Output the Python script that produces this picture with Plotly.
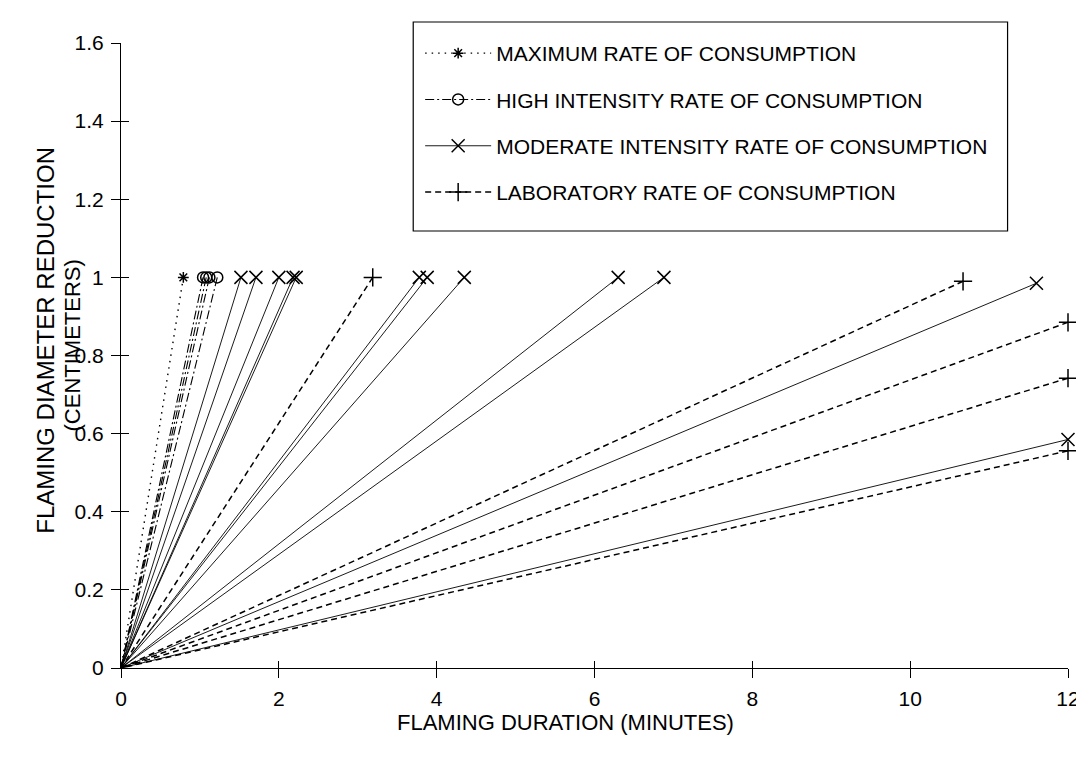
import plotly.graph_objects as go

# Endpoints (minutes, cm) of each burn line; every line starts at the origin
max_x = [0.79]
max_y = [1.0]
high_x = [1.04, 1.08, 1.12, 1.22]
high_y = [1.0, 1.0, 1.0, 1.0]
mod_x = [1.52, 1.71, 2.0, 2.18, 2.22, 3.78, 3.88, 4.35, 6.3, 6.88, 11.6, 12.0]
mod_y = [1.0, 1.0, 1.0, 1.0, 1.0, 1.0, 1.0, 1.0, 1.0, 1.0, 0.985, 0.585]
lab_x = [3.19, 10.67, 12.0, 12.0, 12.0]
lab_y = [1.0, 0.99, 0.885, 0.742, 0.556]

names = ["MAXIMUM RATE OF CONSUMPTION",
         "HIGH INTENSITY RATE OF CONSUMPTION",
         "MODERATE INTENSITY RATE OF CONSUMPTION",
         "LABORATORY RATE OF CONSUMPTION"]

x_ticks = [0, 2, 4, 6, 8, 10, 12]
y_ticks = [0, 0.2, 0.4, 0.6, 0.8, 1.0, 1.2, 1.4, 1.6]
y_ticktext = ["0", "0.2", "0.4", "0.6", "0.8", "1", "1.2", "1.4", "1.6"]

x_title = "FLAMING DURATION (MINUTES)"
y_title_1 = "FLAMING DIAMETER REDUCTION"
y_title_2 = "(CENTIMETERS)"

FONT = "Liberation Sans, Arial, sans-serif"
FS = 21

series = [
    (max_x, max_y, names[0], "asterisk-open", "1.5px,5px", 1.4, 9),
    (high_x, high_y, names[1], "circle-open", "9px,3px,2px,3px", 1.1, 11),
    (mod_x, mod_y, names[2], "x-thin-open", "solid", 0.9, 13),
    (lab_x, lab_y, names[3], "cross-thin-open", "6px,4px", 1.5, 13),
]

fig = go.Figure()
for i, (xs, ys, name, sym, dash, lw, ms) in enumerate(series):
    px, py, cols = [], [], []
    for xe, ye in zip(xs, ys):
        px += [xe, 0, None]
        py += [ye, 0, None]
        cols += ["black", "rgba(0,0,0,0)", "rgba(0,0,0,0)"]
    fig.add_trace(go.Scatter(
        x=px, y=py, mode="lines+markers", name=name,
        legendgroup=f"g{i}", connectgaps=False, cliponaxis=False,
        line=dict(color="black", width=lw, dash=dash),
        marker=dict(symbol=sym, size=ms, color=cols, line=dict(width=1.5)),
    ))

# empty trace that makes the companion (tick-only) axes render
fig.add_trace(go.Scatter(x=[None], y=[None], xaxis="x2", yaxis="y2",
                         mode="markers", showlegend=False, hoverinfo="skip"))

# plot area in pixels
L, R, T, B = 113, 15, 35, 109
W, H = 1084, 769
pw, ph = W - L - R, H - T - B


def px2x(p):
    return (p - L) / pw


def px2y(p):
    return (H - B - p) / ph


axis_common = dict(showgrid=False, zeroline=False, tickcolor="black",
                   tickwidth=1.2)

fig.update_layout(
    width=W, height=H,
    paper_bgcolor="white", plot_bgcolor="white",
    margin=dict(l=L, r=R, t=T, b=B),
    font=dict(family=FONT, size=FS, color="black"),
    showlegend=True,
    legend=dict(
        x=px2x(415), y=px2y(25), xanchor="left", yanchor="top",
        borderwidth=0, bgcolor="rgba(255,255,255,0)",
        font=dict(family=FONT, size=FS, color="black"),
        tracegroupgap=16, itemwidth=66,
    ),
    xaxis=dict(
        range=[0, 12], tickvals=x_ticks, ticktext=[str(v) for v in x_ticks],
        showline=True, linecolor="black", linewidth=1.2,
        ticks="outside", ticklen=9, ticklabelstandoff=3, **axis_common,
    ),
    yaxis=dict(
        range=[0, 1.6], tickvals=y_ticks, ticktext=y_ticktext,
        showline=True, linecolor="black", linewidth=1.2,
        ticks="outside", ticklen=9, ticklabelstandoff=3, **axis_common,
    ),
    # companion axes that draw the inner half of the crossing tick marks
    xaxis2=dict(range=[0, 12], tickvals=x_ticks, overlaying="x", anchor="y",
                side="bottom", ticks="inside", ticklen=7,
                showticklabels=False, showline=False, **axis_common),
    yaxis2=dict(range=[0, 1.6], tickvals=y_ticks, overlaying="y", anchor="x",
                side="left", ticks="inside", ticklen=8,
                showticklabels=False, showline=False, **axis_common),
    shapes=[dict(type="rect", xref="paper", yref="paper",
                 x0=px2x(408), x1=px2x(1008), y0=px2y(223), y1=px2y(14),
                 line=dict(color="black", width=1.2), fillcolor="white",
                 layer="below")],
    annotations=[
        dict(text=x_title, xref="paper", yref="paper",
             x=px2x(562), y=px2y(714), xanchor="center", yanchor="middle",
             showarrow=False, font=dict(size=22)),
        dict(text=y_title_1, xref="paper", yref="paper", textangle=-90,
             x=px2x(36), y=px2y(332), xanchor="center", yanchor="middle",
             showarrow=False, font=dict(size=24)),
        dict(text=y_title_2, xref="paper", yref="paper", textangle=-90,
             x=px2x(64), y=px2y(337), xanchor="center", yanchor="middle",
             showarrow=False, font=dict(size=22)),
    ],
)

fig.write_html("out.html")
